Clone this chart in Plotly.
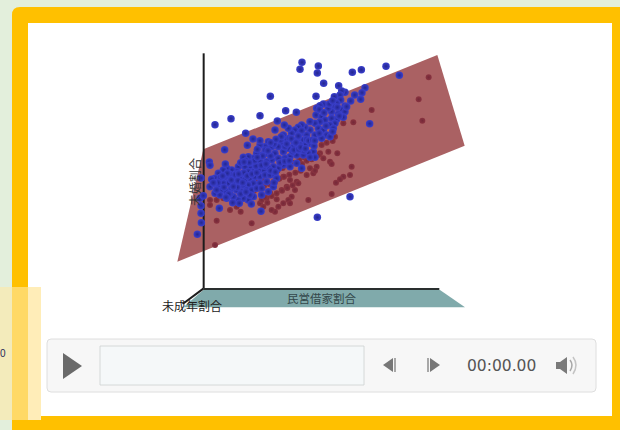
import plotly.graph_objects as go

# Values (picture units)
blue_x = [456,450,505,502,607,634,708,748,521,566,361,498,195,243,330,407,439,382,287,309,292,224,178,180,659,600,502,153,150,160,153,153,154,142,208,333,
645,636,632,614,602,585,575,570,553,572,560,585,575,555,545,565,585,580,560,545,555,540,550,535,520,510,500,498,515,525,510,495,480,505,520,530,540,515,495,480,465,455,445,435,450,470,460,440,425,415,403,375,400,410,395,480,465,450,430,415,400,385,375,355,345,330,365,350,335,320,310,295,280,490,475,495,460,440,420,405,385,365,350,330,315,300,285,265,455,440,420,400,385,370,355,340,325,310,295,280,260,245,230,220,205,195,185,180,210,225,240,255,270,285,300,315,330,345,360,375,350,330,310,295,280,265,250,235,220,205,195,215,230,245,260,275,290,305,320,335,370,355,335,310,295,280,265,250,230,210,268,300,380,
455,470,445,432,418,392,372,345,322,302,288,272,258,238,226,212,202,240,262,282,318,342,362,405,428,448,462,476,492,508,522,538,548,562,568,590,548,528,508,488,
232,218,244,256,204,192,222,236,250,264,278,292,306,320,334,348,362,376,390,404,418,432,446,394,378,362,346,330,314,298,282,266,410,424,438,452,466,480,494,354,338,322,272,288,190,200,228,248,304,372]
blue_y = [67,88,78,99,97,89,79,106,130,137,169,169,254,236,227,212,217,243,280,297,316,329,366,376,251,470,532,414,475,467,497,520,548,583,505,514,
143,158,178,165,183,157,153,165,170,180,190,198,210,200,215,222,215,232,238,235,250,255,265,205,192,197,205,225,230,240,245,250,245,265,270,285,290,295,285,270,262,255,262,270,280,285,300,300,280,265,255,270,285,300,310,310,315,315,320,325,335,320,340,305,320,315,320,340,345,340,355,350,352,335,340,352,345,345,350,355,355,360,365,365,375,380,380,380,385,370,380,375,385,380,385,390,390,395,395,400,395,390,385,390,400,415,418,440,420,410,410,415,415,420,415,410,410,405,405,405,425,430,430,435,435,430,430,430,430,440,460,450,455,445,450,455,450,450,445,445,440,455,465,470,480,475,480,470,475,465,490,465,415,
272,298,288,305,295,300,312,332,328,368,362,368,402,402,372,412,428,462,442,398,378,378,348,320,335,330,332,302,318,208,218,192,182,202,228,200,275,258,280,300,
400,408,420,404,428,430,442,462,440,422,428,408,402,398,376,372,392,396,368,364,362,330,328,290,298,308,330,302,362,368,366,402,312,296,308,322,326,352,302,332,348,352,462,456,428,450,472,488,492,428]

red_x = [836,806,817,665,610,580,555,530,548,515,535,562,540,545,605,600,580,570,558,510,500,480,490,470,440,420,400,375,410,435,395,425,415,400,385,375,365,545,475,420,352,330,305,200,195,180,240,272,180,200,220,
462,448,432,415,398,382,368,352,338,322,305,288,452,436,418,402,388,372,358,342,328,312,296,445,428,412,396,380,365,350,335,470,456,485,505,495,520,340,380,360,345,260,292]
red_y = [112,178,242,210,247,250,290,308,303,315,335,340,365,372,380,405,410,418,428,340,380,385,400,405,425,420,410,425,440,450,450,470,480,490,500,515,510,462,480,490,488,490,550,542,615,495,510,515,480,480,475,
352,360,368,376,384,392,400,408,416,424,432,440,392,398,404,410,416,424,432,438,446,452,460,430,436,444,452,460,468,474,480,362,372,358,345,392,355,500,478,458,472,500,480]

plane_x = [862, 944, 82, 160, 862]
plane_y = [45, 317, 665, 328, 45]
floor_x = [160, 870, 945, 100, 160]
floor_y = [750, 750, 802, 802, 750]
axis_labels = ["民営借家割合", "未成年割合", "未婚割合"]
time_label = "00:00.00"

def X(px):
    return (px - 150) * 3
def Y(py):
    return (py - 40) * 3

CJK = "Noto Sans CJK JP"
fig = go.Figure()

fig.add_trace(go.Scatter(x=floor_x, y=floor_y, mode="lines", fill="toself",
                         fillcolor="#80AAAB", line=dict(width=0), hoverinfo="skip"))
fig.add_trace(go.Scatter(x=plane_x, y=plane_y, mode="lines", fill="toself",
                         fillcolor="#AA6163", line=dict(width=0), hoverinfo="skip"))
# axes of the 3-D box
fig.add_trace(go.Scatter(x=[161, 161], y=[40, 746], mode="lines", line=dict(color="#1c1c1c", width=2), hoverinfo="skip"))
fig.add_trace(go.Scatter(x=[160, 868], y=[747, 747], mode="lines", line=dict(color="#2a2f2f", width=2), hoverinfo="skip"))
fig.add_trace(go.Scatter(x=[160, 98], y=[746, 792], mode="lines", line=dict(color="#1c1c1c", width=2), hoverinfo="skip"))

fig.add_trace(go.Scatter(x=red_x, y=red_y, mode="markers", hoverinfo="skip",
                         marker=dict(size=6, color="#8A3440", line=dict(width=0),
                                     gradient=dict(type="radial", color="#742838"))))
fig.add_trace(go.Scatter(x=blue_x, y=blue_y, mode="markers", hoverinfo="skip",
                         marker=dict(size=7.5, color="#3A3FCC", line=dict(width=0),
                                     gradient=dict(type="radial", color="#23268F"))))

shapes = [
    dict(type="path", path=f"M {X(12)} {Y(432)} L {X(12)} {Y(15)} Q {X(12)} {Y(7)} {X(20)} {Y(7)} L {X(622)} {Y(7)} L {X(622)} {Y(432)} Z",
         fillcolor="#FFC000", line_width=0, layer="below"),
    dict(type="rect", x0=X(28), x1=X(612), y0=Y(23), y1=Y(416), fillcolor="white", line_width=0, layer="below"),
    dict(type="rect", x0=X(0), x1=X(12), y0=Y(287), y1=Y(420), fillcolor="#F3EBBB", line_width=0, layer="below"),
    dict(type="rect", x0=X(12), x1=X(28), y0=Y(287), y1=Y(420), fillcolor="#FFD966", line_width=0, layer="below"),
    dict(type="rect", x0=X(28), x1=X(41), y0=Y(287), y1=Y(420), fillcolor="#FFEDB8", line_width=0, layer="below"),
    # player
    dict(type="path", path=f"M {X(51)} {Y(339)} L {X(592)} {Y(339)} Q {X(596)} {Y(339)} {X(596)} {Y(343)} L {X(596)} {Y(388)} Q {X(596)} {Y(392)} {X(592)} {Y(392)} L {X(51)} {Y(392)} Q {X(47)} {Y(392)} {X(47)} {Y(388)} L {X(47)} {Y(343)} Q {X(47)} {Y(339)} {X(51)} {Y(339)} Z",
         fillcolor="#F7F7F7", line=dict(color="#DEDEDE", width=1), layer="below"),
    dict(type="rect", x0=X(100), x1=X(364), y0=Y(346), y1=Y(385), fillcolor="#F5F8F9", line=dict(color="#CDD0D0", width=0.8), layer="below"),
    dict(type="path", path=f"M {X(63)} {Y(353)} L {X(82)} {Y(366)} L {X(63)} {Y(379)} Z", fillcolor="#6A6A6A", line_width=0, layer="below"),
    dict(type="path", path=f"M {X(393)} {Y(358)} L {X(383)} {Y(365)} L {X(393)} {Y(372)} Z", fillcolor="#777777", line_width=0, layer="below"),
    dict(type="rect", x0=X(394), x1=X(396), y0=Y(358), y1=Y(372), fillcolor="#A8A8A8", line_width=0, layer="below"),
    dict(type="rect", x0=X(427), x1=X(429), y0=Y(358), y1=Y(372), fillcolor="#A8A8A8", line_width=0, layer="below"),
    dict(type="path", path=f"M {X(430)} {Y(358)} L {X(440)} {Y(365)} L {X(430)} {Y(372)} Z", fillcolor="#777777", line_width=0, layer="below"),
    dict(type="path", path=f"M {X(556)} {Y(362)} L {X(560)} {Y(362)} L {X(567)} {Y(357)} L {X(567)} {Y(374)} L {X(560)} {Y(369)} L {X(556)} {Y(369)} Z", fillcolor="#7A7A7A", line_width=0, layer="below"),
    dict(type="path", path=f"M {X(570)} {Y(360)} Q {X(574)} {Y(365)} {X(570)} {Y(371)}", line=dict(color="#A8A8A8", width=1.5), layer="below"),
    dict(type="path", path=f"M {X(573)} {Y(357)} Q {X(579)} {Y(365)} {X(573)} {Y(374)}", line=dict(color="#C4C4C4", width=1.5), layer="below"),
]

annotations = [
    dict(x=513, y=773, text=axis_labels[0], showarrow=False, font=dict(family=CJK, size=11.5, color="#33474A")),
    dict(x=125, y=797, text=axis_labels[1], showarrow=False, font=dict(family=CJK, size=12, color="#222222")),
    dict(x=133, y=425, text=axis_labels[2], textangle=-90, showarrow=False, font=dict(family=CJK, size=12, color="#333333")),
    dict(x=X(501), y=Y(366), text=time_label, showarrow=False, font=dict(family="DejaVu Sans", size=15.5, color="#555555")),
    dict(x=X(1), xanchor="left", xshift=-2, y=Y(353), text="0", showarrow=False, borderpad=0, font=dict(family="Liberation Sans", size=10, color="#1F2A5A")),
]

fig.update_layout(
    width=620, height=430, margin=dict(l=0, r=0, t=0, b=0), autosize=False,
    showlegend=False, paper_bgcolor="#E3EFDC", plot_bgcolor="rgba(0,0,0,0)",
    xaxis=dict(range=[X(0), X(620)], visible=False, fixedrange=True),
    yaxis=dict(range=[Y(430), Y(0)], visible=False, fixedrange=True),
    shapes=shapes, annotations=annotations,
)
fig.write_html("out.html", config=dict(displayModeBar=False, responsive=False),
               post_script="document.body.style.margin='0';document.documentElement.style.overflow='hidden';")
